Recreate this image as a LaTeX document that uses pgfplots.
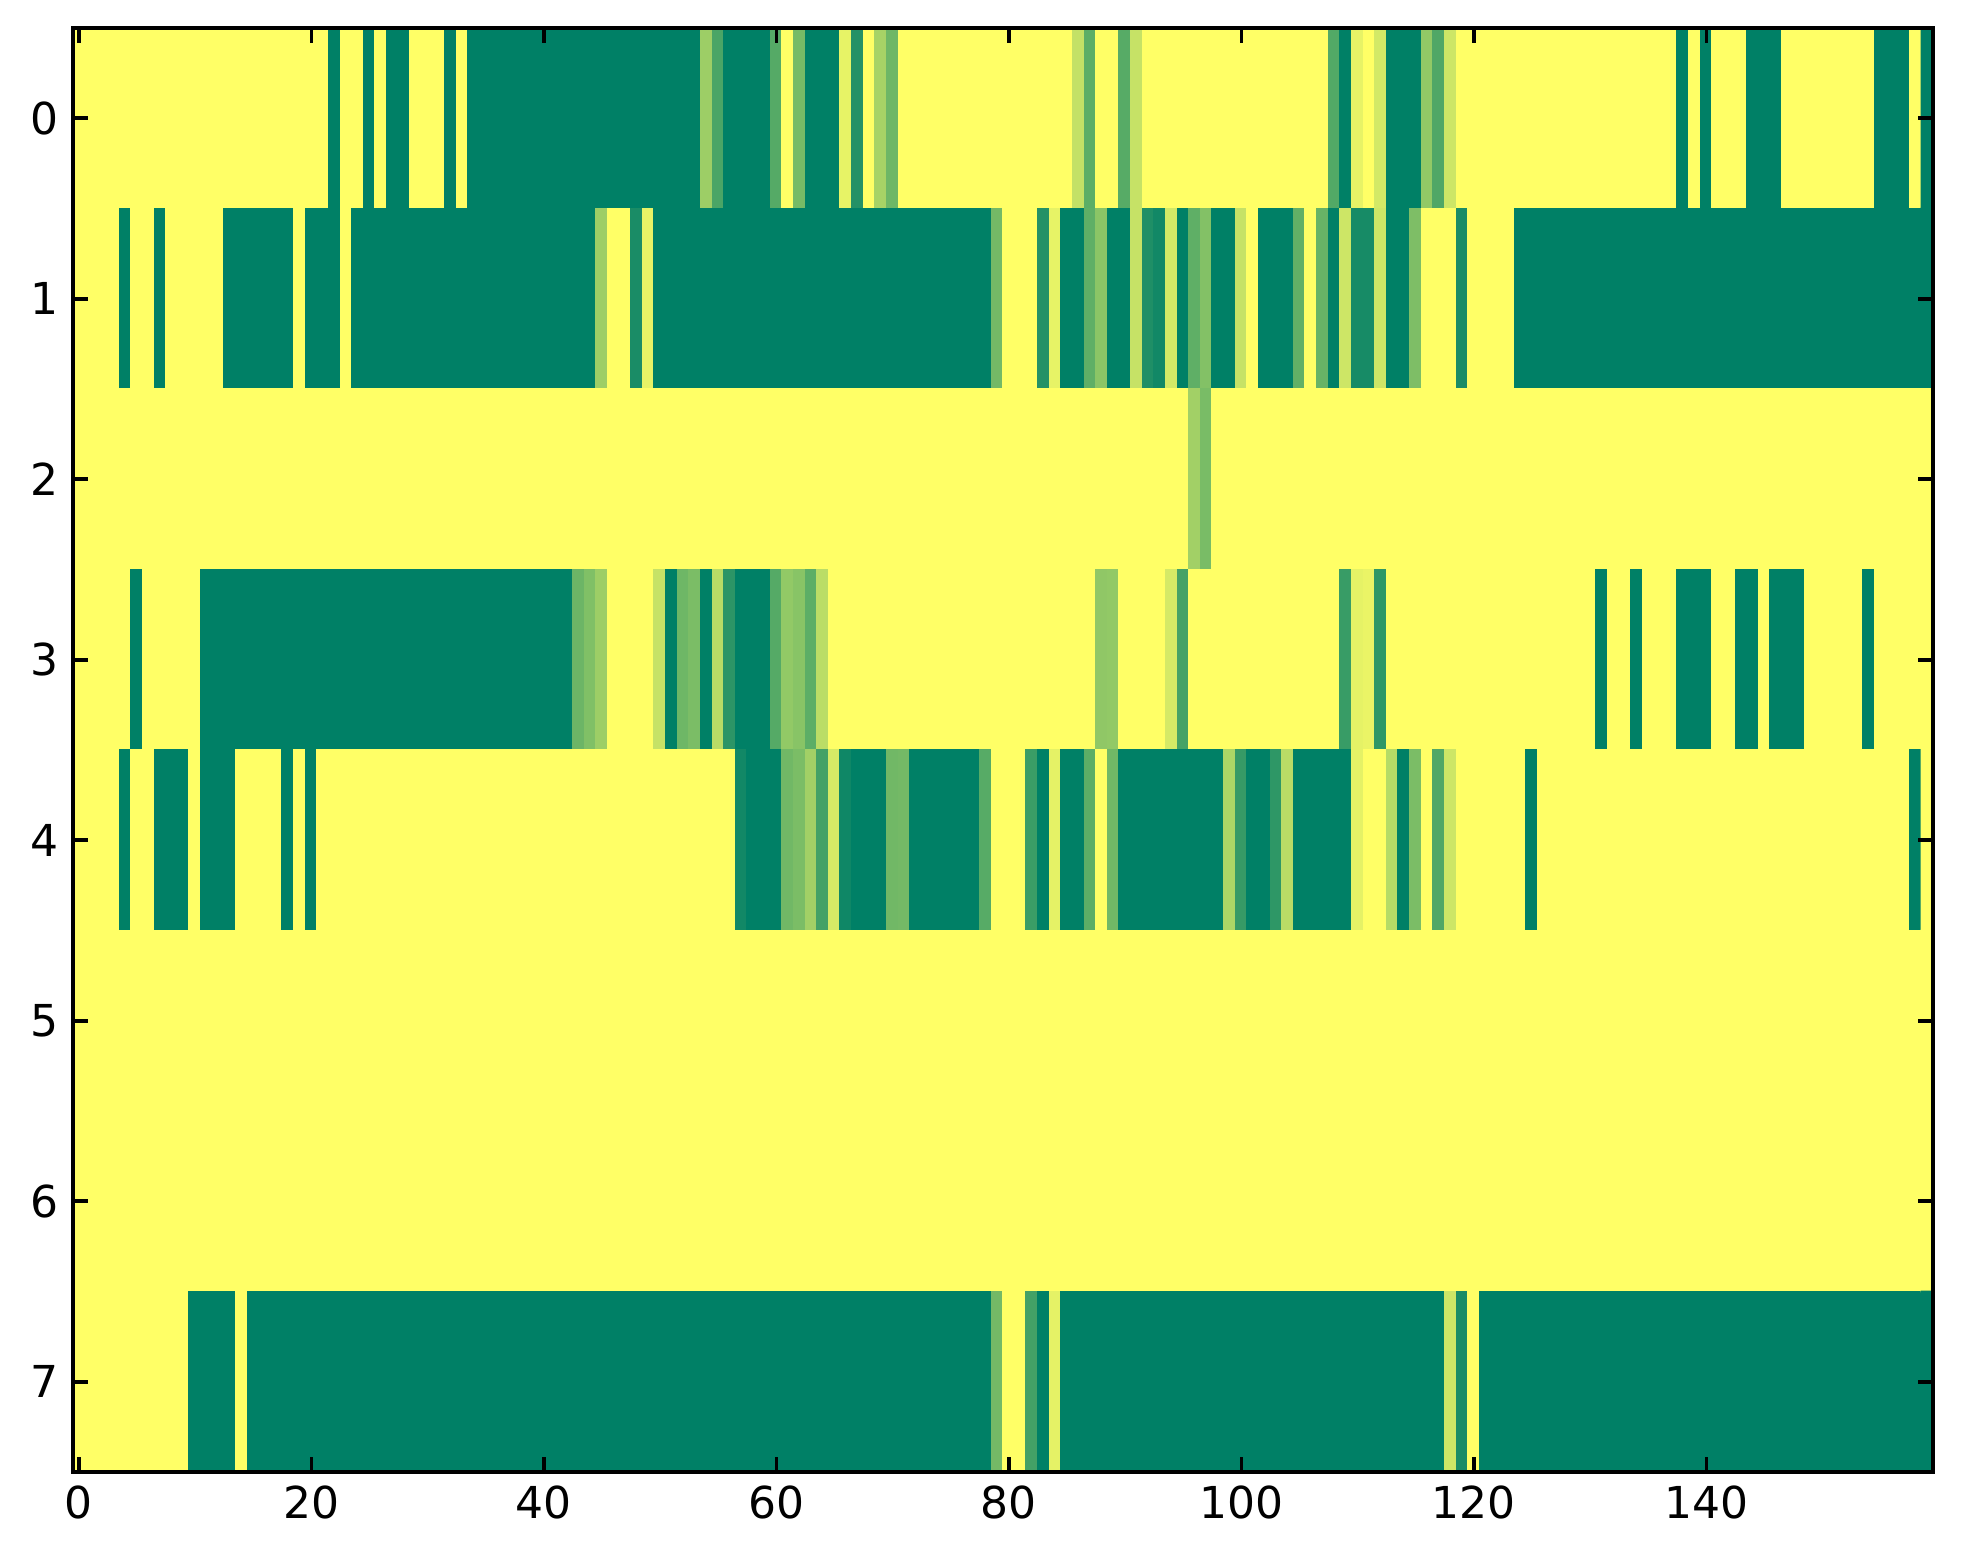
\documentclass[border=0pt]{standalone}
\usepackage{fontspec}
\setmainfont{DejaVu Sans}
\usepackage{pgfplots}
\pgfplotsset{compat=1.18}
\begin{document}
\begin{tikzpicture}
\begin{axis}[name=ax, scale only axis, width=465pt, height=361pt,
 xmin=-0.5, xmax=159.5, ymin=-0.5, ymax=7.5, y dir=reverse, enlargelimits=false,
 axis on top, xtick={0,20,...,140}, ytick={0,...,7},
 colormap={summer}{rgb=(0,0.5,0.4) rgb=(1,1,0.4)}, point meta min=0, point meta max=1,
 tick align=inside, major tick length=3.75pt,
 every tick/.style={black, line width=0.9pt},
 axis line style={line width=1pt},
 ticklabel style={font=\fontsize{11}{13}\selectfont},
 /pgf/number format/assume math mode=true,
]
\addplot[matrix plot*, mesh/cols=160, point meta=explicit] table[row sep=\\, header=false, meta index=0, x expr={mod(\coordindex,160)}, y expr={floor(\coordindex/160)}] {
% row 0
1\\1\\1\\1\\1\\1\\1\\1\\1\\1\\
1\\1\\1\\1\\1\\1\\1\\1\\1\\1\\
1\\1\\0\\1\\1\\0\\1\\0\\0\\1\\
1\\1\\0\\1\\0\\0\\0\\0\\0\\0\\
0\\0\\0\\0\\0\\0\\0\\0\\0\\0\\
0\\0\\0\\0\\0.61\\0.29\\0\\0\\0\\0\\
0.33\\1\\0.46\\0\\0\\0\\0.9\\0.14\\1\\0.65\\
0.43\\1\\1\\1\\1\\1\\1\\1\\1\\1\\
1\\1\\1\\1\\1\\1\\0.76\\0.36\\1\\1\\
0.34\\0.77\\1\\1\\1\\1\\1\\1\\1\\1\\
1\\1\\1\\1\\1\\1\\1\\1\\0.32\\0\\
0.9\\1\\0.82\\0\\0\\0\\0.57\\0.31\\0.8\\1\\
1\\1\\1\\1\\1\\1\\1\\1\\1\\1\\
1\\1\\1\\1\\1\\1\\1\\1\\0\\1\\
0\\1\\1\\1\\0\\0\\0\\1\\1\\1\\
1\\1\\1\\1\\1\\0\\0\\0\\1\\0\\
% row 1
1\\1\\1\\1\\0\\1\\1\\0\\1\\1\\
1\\1\\1\\0\\0\\0\\0\\0\\0\\1\\
0\\0\\0\\1\\0\\0\\0\\0\\0\\0\\
0\\0\\0\\0\\0\\0\\0\\0\\0\\0\\
0\\0\\0\\0\\0\\0.61\\1\\1\\0.1\\0.9\\
0\\0\\0\\0\\0\\0\\0\\0\\0\\0\\
0\\0\\0\\0\\0\\0\\0\\0\\0\\0\\
0\\0\\0\\0\\0\\0\\0\\0\\0\\0.45\\
1\\1\\1\\0.14\\0.9\\0\\0\\0.37\\0.54\\0\\
0\\0.77\\0.12\\0.07\\0.82\\0\\0.37\\0.51\\0\\0\\
0.77\\1\\0\\0\\0\\0.38\\1\\0.4\\0\\0.8\\
0.09\\0.09\\0.8\\0\\0\\0.49\\1\\1\\1\\0.1\\
1\\1\\1\\1\\0\\0\\0\\0\\0\\0\\
0\\0\\0\\0\\0\\0\\0\\0\\0\\0\\
0\\0\\0\\0\\0\\0\\0\\0\\0\\0\\
0\\0\\0\\0\\0\\0\\0\\0\\0\\0\\
% row 2
1\\1\\1\\1\\1\\1\\1\\1\\1\\1\\
1\\1\\1\\1\\1\\1\\1\\1\\1\\1\\
1\\1\\1\\1\\1\\1\\1\\1\\1\\1\\
1\\1\\1\\1\\1\\1\\1\\1\\1\\1\\
1\\1\\1\\1\\1\\1\\1\\1\\1\\1\\
1\\1\\1\\1\\1\\1\\1\\1\\1\\1\\
1\\1\\1\\1\\1\\1\\1\\1\\1\\1\\
1\\1\\1\\1\\1\\1\\1\\1\\1\\1\\
1\\1\\1\\1\\1\\1\\1\\1\\1\\1\\
1\\1\\1\\1\\1\\1\\0.63\\0.47\\1\\1\\
1\\1\\1\\1\\1\\1\\1\\1\\1\\1\\
1\\1\\1\\1\\1\\1\\1\\1\\1\\1\\
1\\1\\1\\1\\1\\1\\1\\1\\1\\1\\
1\\1\\1\\1\\1\\1\\1\\1\\1\\1\\
1\\1\\1\\1\\1\\1\\1\\1\\1\\1\\
1\\1\\1\\1\\1\\1\\1\\1\\1\\1\\
% row 3
1\\1\\1\\1\\1\\0\\1\\1\\1\\1\\
1\\0\\0\\0\\0\\0\\0\\0\\0\\0\\
0\\0\\0\\0\\0\\0\\0\\0\\0\\0\\
0\\0\\0\\0\\0\\0\\0\\0\\0\\0\\
0\\0\\0\\0.42\\0.5\\0.61\\1\\1\\1\\1\\
0.77\\0\\0.43\\0.48\\0\\0.72\\0.17\\0\\0\\0\\
0.33\\0.57\\0.53\\0.36\\0.73\\1\\1\\1\\1\\1\\
1\\1\\1\\1\\1\\1\\1\\1\\1\\1\\
1\\1\\1\\1\\1\\1\\1\\1\\0.56\\0.57\\
1\\1\\1\\1\\0.83\\0.27\\1\\1\\1\\1\\
1\\1\\1\\1\\1\\1\\1\\1\\1\\0.22\\
0.89\\0.91\\0.18\\1\\1\\1\\1\\1\\1\\1\\
1\\1\\1\\1\\1\\1\\1\\1\\1\\1\\
1\\0\\1\\1\\0\\1\\1\\1\\0\\0\\
0\\1\\1\\0\\0\\1\\0\\0\\0\\1\\
1\\1\\1\\1\\0\\1\\1\\1\\1\\1\\
% row 4
1\\1\\1\\1\\0\\1\\1\\0\\0\\0\\
1\\0\\0\\0\\1\\1\\1\\1\\0\\1\\
0\\1\\1\\1\\1\\1\\1\\1\\1\\1\\
1\\1\\1\\1\\1\\1\\1\\1\\1\\1\\
1\\1\\1\\1\\1\\1\\1\\1\\1\\1\\
1\\1\\1\\1\\1\\1\\1\\0.07\\0\\0\\
0\\0.44\\0.48\\0.63\\0.26\\0.83\\0.06\\0\\0\\0\\
0.44\\0.45\\0\\0\\0\\0\\0\\0\\0.34\\1\\
1\\1\\0.23\\0\\0.89\\0\\0\\0.36\\1\\0.44\\
0\\0\\0\\0\\0\\0\\0\\0\\0\\0.67\\
0.21\\0\\0\\0.18\\0.72\\0\\0\\0\\0\\0\\
0.89\\1\\1\\0.71\\0\\0.48\\1\\0.31\\0.8\\1\\
1\\1\\1\\1\\1\\0\\1\\1\\1\\1\\
1\\1\\1\\1\\1\\1\\1\\1\\1\\1\\
1\\1\\1\\1\\1\\1\\1\\1\\1\\1\\
1\\1\\1\\1\\1\\1\\1\\1\\0\\1\\
% row 5
1\\1\\1\\1\\1\\1\\1\\1\\1\\1\\
1\\1\\1\\1\\1\\1\\1\\1\\1\\1\\
1\\1\\1\\1\\1\\1\\1\\1\\1\\1\\
1\\1\\1\\1\\1\\1\\1\\1\\1\\1\\
1\\1\\1\\1\\1\\1\\1\\1\\1\\1\\
1\\1\\1\\1\\1\\1\\1\\1\\1\\1\\
1\\1\\1\\1\\1\\1\\1\\1\\1\\1\\
1\\1\\1\\1\\1\\1\\1\\1\\1\\1\\
1\\1\\1\\1\\1\\1\\1\\1\\1\\1\\
1\\1\\1\\1\\1\\1\\1\\1\\1\\1\\
1\\1\\1\\1\\1\\1\\1\\1\\1\\1\\
1\\1\\1\\1\\1\\1\\1\\1\\1\\1\\
1\\1\\1\\1\\1\\1\\1\\1\\1\\1\\
1\\1\\1\\1\\1\\1\\1\\1\\1\\1\\
1\\1\\1\\1\\1\\1\\1\\1\\1\\1\\
1\\1\\1\\1\\1\\1\\1\\1\\1\\1\\
% row 6
1\\1\\1\\1\\1\\1\\1\\1\\1\\1\\
1\\1\\1\\1\\1\\1\\1\\1\\1\\1\\
1\\1\\1\\1\\1\\1\\1\\1\\1\\1\\
1\\1\\1\\1\\1\\1\\1\\1\\1\\1\\
1\\1\\1\\1\\1\\1\\1\\1\\1\\1\\
1\\1\\1\\1\\1\\1\\1\\1\\1\\1\\
1\\1\\1\\1\\1\\1\\1\\1\\1\\1\\
1\\1\\1\\1\\1\\1\\1\\1\\1\\1\\
1\\1\\1\\1\\1\\1\\1\\1\\1\\1\\
1\\1\\1\\1\\1\\1\\1\\1\\1\\1\\
1\\1\\1\\1\\1\\1\\1\\1\\1\\1\\
1\\1\\1\\1\\1\\1\\1\\1\\1\\1\\
1\\1\\1\\1\\1\\1\\1\\1\\1\\1\\
1\\1\\1\\1\\1\\1\\1\\1\\1\\1\\
1\\1\\1\\1\\1\\1\\1\\1\\1\\1\\
1\\1\\1\\1\\1\\1\\1\\1\\1\\1\\
% row 7
1\\1\\1\\1\\1\\1\\1\\1\\1\\1\\
0\\0\\0\\0\\1\\0\\0\\0\\0\\0\\
0\\0\\0\\0\\0\\0\\0\\0\\0\\0\\
0\\0\\0\\0\\0\\0\\0\\0\\0\\0\\
0\\0\\0\\0\\0\\0\\0\\0\\0\\0\\
0\\0\\0\\0\\0\\0\\0\\0\\0\\0\\
0\\0\\0\\0\\0\\0\\0\\0\\0\\0\\
0\\0\\0\\0\\0\\0\\0\\0\\0\\0.45\\
1\\1\\0.26\\0\\0.89\\0\\0\\0\\0\\0\\
0\\0\\0\\0\\0\\0\\0\\0\\0\\0\\
0\\0\\0\\0\\0\\0\\0\\0\\0\\0\\
0\\0\\0\\0\\0\\0\\0\\0\\0.8\\0.1\\
1\\0\\0\\0\\0\\0\\0\\0\\0\\0\\
0\\0\\0\\0\\0\\0\\0\\0\\0\\0\\
0\\0\\0\\0\\0\\0\\0\\0\\0\\0\\
0\\0\\0\\0\\0\\0\\0\\0\\0\\0\\
};
\end{axis}
\pgfresetboundingbox
\path[use as bounding box] ([shift={(-18.25pt,-23pt)}]ax.south west) rectangle ([shift={(7.5pt,7pt)}]ax.north east);
\end{tikzpicture}
\end{document}
